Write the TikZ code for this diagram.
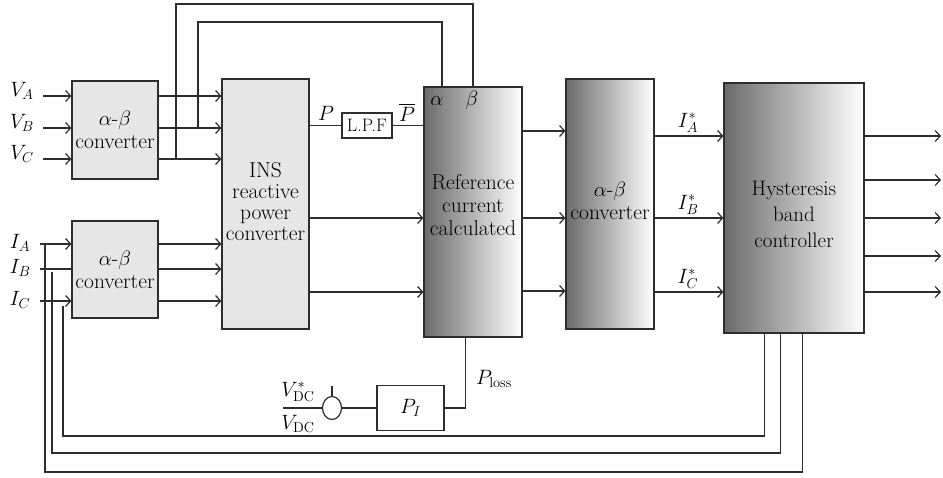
\documentclass[tikz,border=0pt]{standalone}
\usepackage{amsmath,amssymb}
\usetikzlibrary{arrows.meta,positioning,calc,shapes.geometric}
\definecolor{cline}{RGB}{45,45,45}
\definecolor{cbox}{RGB}{230,230,230}
\tikzset{
  blk/.style={draw=cline, line width=1.2pt, fill=cbox, align=center, inner sep=1pt},
  gblk/.style={draw=cline, line width=1.2pt, left color=black!58, right color=white, align=center, inner sep=1pt},
  sig/.style={draw=cline, line width=1.2pt},
  arr/.style={sig, -{Straight Barb[length=5pt,width=11pt]}},
}

\begin{document}
\begin{tikzpicture}[x=1pt, y=-1pt, font=\fontsize{21.5}{23}\selectfont]
    \useasboundingbox (0,0) rectangle (943,477);
    % blocks
    \node[blk, minimum width=86, minimum height=98] (cvv) at (115,130) {$\alpha$-$\beta$\\converter};
    \node[blk, minimum width=86, minimum height=97] (cvi) at (115,269.5) {$\alpha$-$\beta$\\converter};
    \node[blk, minimum width=87, minimum height=250, text depth=6pt] (ins) at (265.5,204) {INS\\[-2pt]reactive\\[-2pt]power\\[-2pt]converter};
    \node[draw=cline, line width=1.2pt, fill=white, minimum width=50, minimum height=25, inner sep=1pt, font=\fontsize{18}{20}\selectfont] (lpf) at (367,125.5) {L.P.F};
    \node[gblk, minimum width=98, minimum height=250, text depth=14pt] (ref) at (473,212) {Reference\\current\\calculated};
    \node[gblk, minimum width=88, minimum height=250, text depth=6pt] (cvo) at (610,204) {$\alpha$-$\beta$\\converter};
    \node[gblk, minimum width=140, minimum height=250] (hys) at (794,208) {};
    \node[align=center, font=\fontsize{21}{26}\selectfont] (hyst) at ($(hys.center)+(0,6)$) {Hysteresis\\band\\controller};
    \node[draw=cline, line width=1.2pt, minimum width=67, minimum height=45] (pi) at (410.5,408) {$P_I$};
    \node[ellipse, draw=cline, line width=1.2pt, minimum width=19, minimum height=23, inner sep=0pt] (sum) at (332,408) {};

    % voltage inputs
    \foreach \n/\y/\t in {a/96/A, b/128/B, c/159/C} {
      \coordinate (v\n) at (43,\y);
      \node (lv\n) at (22,\y-5) {$V_\t$};
      \draw[arr] (v\n) -- (v\n -| cvv.west);
      \draw[arr] (cvv.east |- v\n) -- (ins.west |- v\n);
    }
    % current inputs
    \coordinate (ia) at (40,244);
    \coordinate (ib) at (40,269);
    \coordinate (ic) at (40,301);
    \node (lia) at (20,243) {$I_A$};
    \node (lib) at (20,268) {$I_B$};
    \node (lic) at (20,300) {$I_C$};
    \draw[arr] (ia) -- (ia -| cvi.west);
    \draw[sig] (ib) -- (ib -| cvi.west);
    \draw[arr] (ic) -- (ic -| cvi.west);
    \foreach \n in {ia,ib,ic}
      \draw[arr] (cvi.east |- \n) -- (ins.west |- \n);

    % alpha beta taps to reference block
    \coordinate (ja) at (176,159);
    \coordinate (jb) at (198,128);
    \coordinate (ta) at (473,4);
    \coordinate (tb) at (442,22);
    \draw[sig] (ja) |- (ta) -- (ta |- ref.north);
    \draw[sig] (jb) |- (tb) -- (tb |- ref.north);
    \node (lal) at (437,101) {$\alpha$};
    \node (lbe) at (472,100) {$\beta$};

    % power path
    \draw[sig] (ins.east |- lpf) -- (lpf);
    \draw[sig] (lpf) -- (lpf -| ref.west);
    \node (lp) at (326,113) {$P$};
    \node (lpb) at (407,112) {$\overline{P}$};
    \coordinate (r1) at (0,218);
    \coordinate (r2) at (0,292);
    \draw[arr] (ins.east |- r1) -- (ref.west |- r1);
    \draw[arr] (ins.east |- r2) -- (ref.west |- r2);

    % reference -> converter -> hysteresis
    \foreach \y in {131,218,291}
      \draw[arr] (ref.east |- 0,\y) -- (cvo.west |- 0,\y);
    \foreach \y/\t in {136/A,218/B,292/C} {
      \draw[arr] (cvo.east |- 0,\y) -- (hys.west |- 0,\y);
      \node at (688,\y-13) {$I_\t^*$};
    }
    \coordinate (oend) at (941,0);
    \foreach \y in {136,180,218,256,292}
      \draw[arr] (hys.east |- 0,\y) -- (oend |- 0,\y);

    % dc link loop
    \coordinate (vdc) at (283,408);
    \draw[sig] (vdc) -- (sum);
    \draw[sig] (sum.north) -- ++(0,-10);
    \draw[sig] (sum) -- (pi);
    \draw[sig] (pi) -| ($(ref.south west)+(42,0)$);
    \node (lvs) at (298,392) {$V_{\mathrm{DC}}^*$};
    \node (lvd) at (298,424) {$V_{\mathrm{DC}}$};
    \node (lpl) at (494,379) {$P_{\mathrm{loss}}$};

    % current feedback
    \coordinate (f1) at (63,436);
    \coordinate (f2) at (52,453);
    \coordinate (f3) at (45,472);
    \draw[sig] ($(hys.south west)+(41,0)$) |- (f1) -- ($(f1 |- ic)+(0,5)$);
    \draw[sig] ($(hys.south west)+(57,0)$) |- (f2) -- ($(f2 |- ib)+(0,3)$);
    \draw[sig] ($(hys.south west)+(79,0)$) |- (f3) -- (f3 |- ia);
\end{tikzpicture}
\end{document}
